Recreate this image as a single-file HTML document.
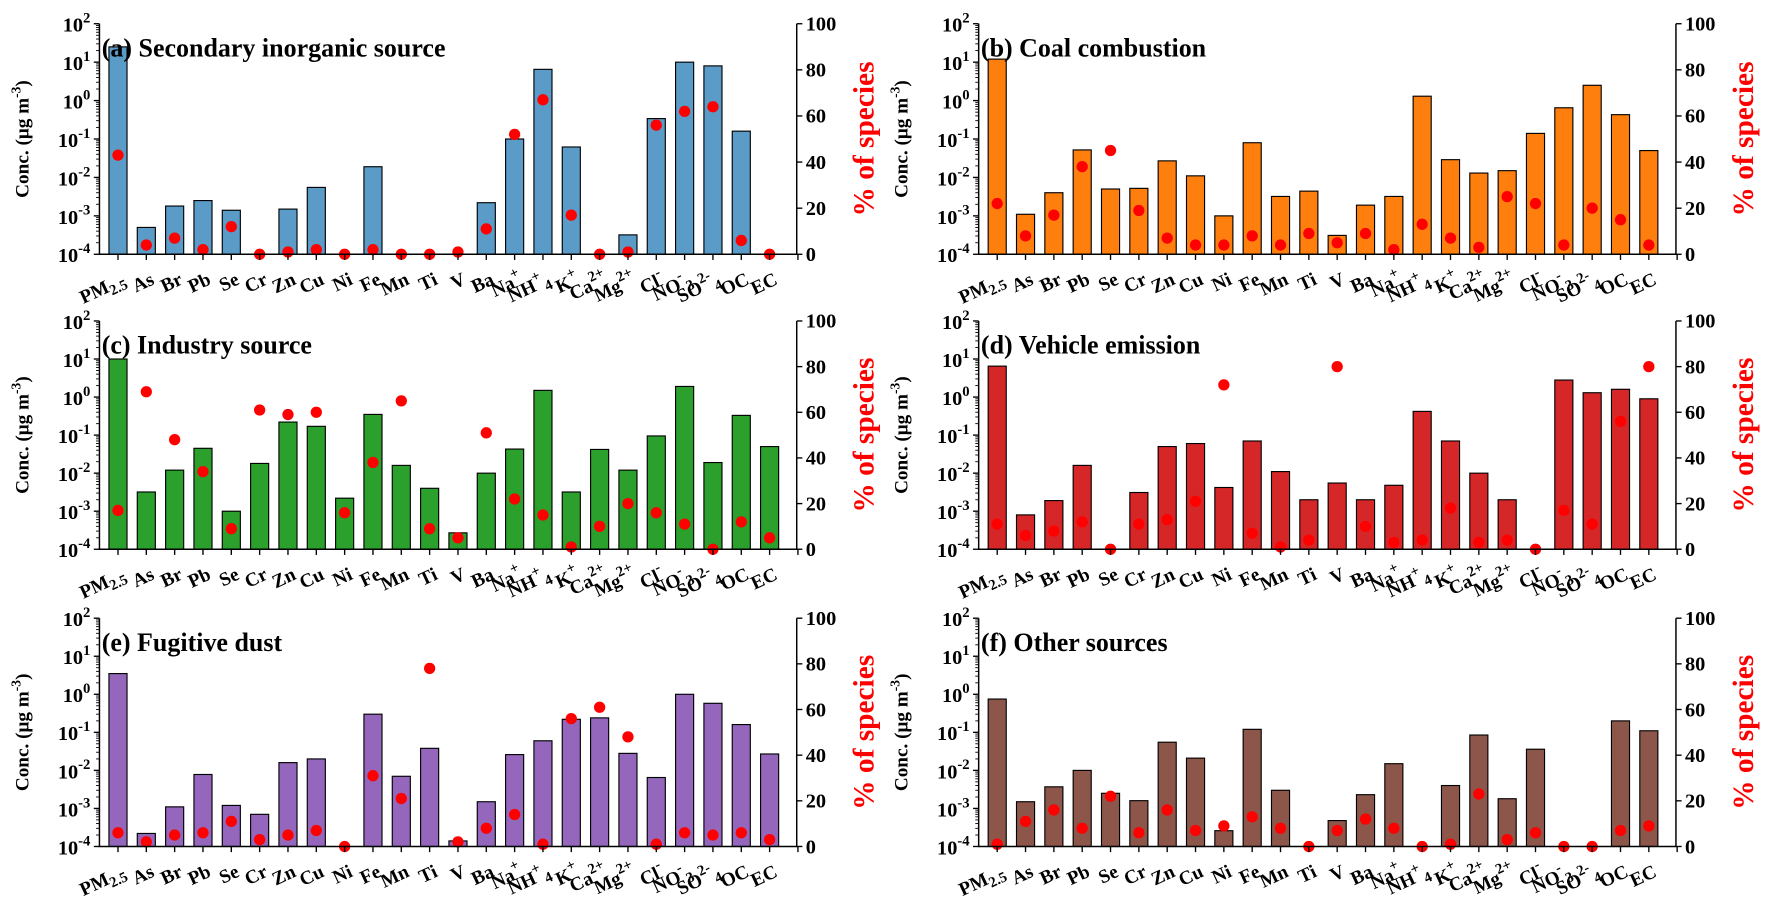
<!DOCTYPE html>
<html><head><meta charset="utf-8"><style>
html,body{margin:0;padding:0;background:#fff;}
svg{display:block;font-family:"Liberation Serif",serif;font-weight:bold;}
</style></head><body>
<svg id="chart" width="1772" height="917" viewBox="0 0 1568 811.4" preserveAspectRatio="none" xmlns="http://www.w3.org/2000/svg"></svg>
<script>
const categories = ["PM2.5","As","Br","Pb","Se","Cr","Zn","Cu","Ni","Fe","Mn","Ti","V","Ba","Na+","NH4+","K+","Ca2+","Mg2+","Cl-","NO3-","SO42-","OC","EC"];
const titles = ["(a) Secondary inorganic source","(b) Coal combustion","(c) Industry source","(d) Vehicle emission","(e) Fugitive dust","(f) Other sources"];
const colors = ["#5b9bc8","#ff7f0e","#2ca02c","#d62728","#9467bd","#8c564b"];
const N = null;
const concA = [25,5e-4,1.8e-3,2.5e-3,1.4e-3,N,1.5e-3,5.5e-3,N,0.019,N,N,N,2.2e-3,0.1,6.5,0.062,N,3.2e-4,0.34,10,8,0.16,N];
const concB = [12,1.1e-3,4e-3,0.052,5e-3,5.2e-3,0.027,0.011,1e-3,0.08,3.2e-3,4.4e-3,3.1e-4,1.9e-3,3.2e-3,1.3,0.029,0.013,0.015,0.14,0.65,2.5,0.43,0.05];
const concC = [10,3.2e-3,0.012,0.045,1e-3,0.018,0.22,0.17,2.2e-3,0.35,0.016,4e-3,2.7e-4,0.01,0.043,1.5,3.2e-3,0.042,0.012,0.095,1.9,0.019,0.33,0.05];
const concD = [6.5,8e-4,1.9e-3,0.016,N,3.1e-3,0.05,0.06,4.2e-3,0.07,0.011,2e-3,5.5e-3,2e-3,4.8e-3,0.42,0.07,0.01,2e-3,N,2.8,1.3,1.6,0.9];
const concE = [3.5,2.2e-4,1.1e-3,7.8e-3,1.2e-3,7e-4,0.016,0.02,N,0.3,7e-3,0.038,1.4e-4,1.5e-3,0.026,0.06,0.22,0.24,0.028,6.5e-3,1.0,0.58,0.16,0.027];
const concF = [0.75,1.5e-3,3.7e-3,0.01,2.5e-3,1.6e-3,0.055,0.021,2.6e-4,0.12,3e-3,N,4.8e-4,2.3e-3,0.015,N,4e-3,0.085,1.8e-3,0.036,N,N,0.2,0.11];
const pctA = [43,4,7,2,12,0,1,2,0,2,0,0,1,11,52,67,17,0,1,56,62,64,6,0];
const pctB = [22,8,17,38,45,19,7,4,4,8,4,9,5,9,2,13,7,3,25,22,4,20,15,4];
const pctC = [17,69,48,34,9,61,59,60,16,38,65,9,5,51,22,15,1,10,20,16,11,0,12,5];
const pctD = [11,6,8,12,0,11,13,21,72,7,1,4,80,10,3,4,18,3,4,0,17,11,56,80];
const pctE = [6,2,5,6,11,3,5,7,0,31,21,78,2,8,14,1,56,61,48,1,6,5,6,3];
const pctF = [1,11,16,8,22,6,16,7,9,13,8,0,7,12,8,0,1,23,3,6,0,0,7,9];
const concs = [concA,concB,concC,concD,concE,concF];
const pcts = [pctA,pctB,pctC,pctD,pctE,pctF];
const leftTicks = [-4,-3,-2,-1,0,1,2];
const rightTicks = [0,20,40,60,80,100];

const NS="http://www.w3.org/2000/svg";
const svg=document.getElementById('chart');
function mk(tag,attrs,parent){const e=document.createElementNS(NS,tag);for(const k in attrs)e.setAttribute(k,attrs[k]);(parent||svg).appendChild(e);return e;}
function labelParts(c){
  const m={"PM2.5":[["PM",""],["2.5","sub"]],"NH4+":[["NH",""],["+","sup"],["4","sub"]],"Na+":[["Na",""],["+","sup"]],"K+":[["K",""],["+","sup"]],"Ca2+":[["Ca",""],["2+","sup"]],"Mg2+":[["Mg",""],["2+","sup"]],"Cl-":[["Cl",""],["-","sup"]],"NO3-":[["NO",""],["-","sup"],["3","sub"]],"SO42-":[["SO",""],["2-","sup"],["4","sub"]]};
  return m[c]||[[c,""]];
}
const panelsX=[88,866];
const panelsY=[[21,225],[284,486],[547,749]];
const W=617, step=25.07, x0off=16.4, bw=16;
for(let p=0;p<6;p++){
  const L=panelsX[p%2], R=L+W, T=panelsY[Math.floor(p/2)][0], B=panelsY[Math.floor(p/2)][1];
  const g=mk('g',{});
  
  
  const yL=v=>B-(Math.log10(v)+4)/6*(B-T);
  const yR=v=>B-v/100*(B-T);
  const xC=i=>L+x0off+i*step;
  concs[p].forEach((v,i)=>{
    if(v===null) return;
    const r=mk('rect',{x:xC(i)-bw/2,y:yL(v),width:bw,height:B-yL(v),fill:colors[p],stroke:'#000','stroke-width':1},g);
    
    
  });
  pcts[p].forEach((v,i)=>{
    const c=mk('circle',{cx:xC(i),cy:yR(v),r:5,fill:'#ff0000'},g);
    
    
  });
  const ax=mk('path',{d:`M${L},${T}V${B}H${R}V${T}`,fill:'none',stroke:'#000','stroke-width':1.3},g);
  
  
  leftTicks.forEach(t=>{
    const y=yL(Math.pow(10,t));
    mk('line',{x1:L-5,x2:L,y1:y,y2:y,stroke:'#000','stroke-width':1.2},g);
    if(t<2) for(let k=2;k<10;k++){const yy=yL(k*Math.pow(10,t));mk('line',{x1:L-3,x2:L,y1:yy,y2:yy,stroke:'#000','stroke-width':0.8},g);}
    const tx=mk('text',{x:L-8,y:y+7,'text-anchor':'end','font-size':18},g);
    
    
    tx.appendChild(document.createTextNode('10'));
    const s=mk('tspan',{'font-size':13,dy:-8},tx); s.textContent=String(t);
  });
  rightTicks.forEach(t=>{
    const y=yR(t);
    mk('line',{x1:R,x2:R+5,y1:y,y2:y,stroke:'#000','stroke-width':1.2},g);
    const tx=mk('text',{x:R+8,y:y+6,'font-size':18},g);
    
    
    tx.textContent=String(t);
  });
  for(let i=0;i<=24;i++){
    const x=L+x0off+i*step;
    mk('line',{x1:x,x2:x,y1:B,y2:B+5,stroke:'#000','stroke-width':1.2},g);
    if(i<24){
      const tx=mk('text',{transform:`translate(${x+8},${B+26}) rotate(-25)`,'text-anchor':'end','font-size':17},g);
      
      
      labelParts(categories[i]).forEach(([s,k])=>{
        const ts=mk('tspan',{},tx);
        if(k==='sub'){ts.setAttribute('font-size',13);ts.setAttribute('dy',4);}
        if(k==='sup'){ts.setAttribute('font-size',13);ts.setAttribute('dy',-8);}
        ts.textContent=s;
        if(k){const z=mk('tspan',{'font-size':1,dy:k==='sub'?-4:8},tx);z.textContent=' ';}
      });
    }
  }
  const tt=mk('text',{x:L+2,y:T+29,'font-size':23},g);
  
  
  tt.textContent=titles[p];
  const yt=mk('text',{transform:`translate(${L-63},${(T+B)/2}) rotate(-90)`,'text-anchor':'middle','font-size':17},g);
  
  
  yt.appendChild(document.createTextNode('Conc. (μg m'));
  const sp=mk('tspan',{'font-size':12,dy:-7},yt); sp.textContent='-3';
  const sp2=mk('tspan',{dy:7},yt); sp2.textContent=')';
  const y2=mk('text',{transform:`translate(${R+68},${(T+B)/2}) rotate(-90)`,'text-anchor':'middle','font-size':26,fill:'#ff0000'},g);
  
  
  y2.textContent='% of species';
}
</script>
</body></html>
